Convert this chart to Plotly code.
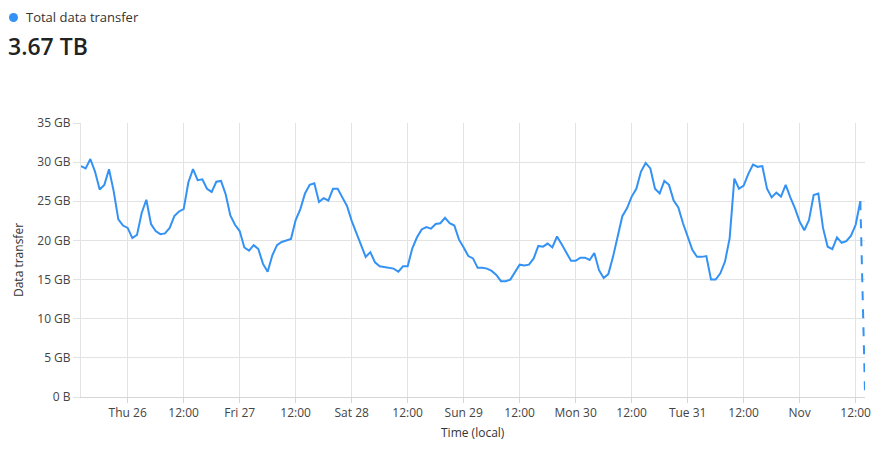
import plotly.graph_objects as go
import pandas as pd

# hourly data transfer (GB), starting Oct 25 14:00 local
start_time = "2023-10-25 14:00"
values_gb = [
    29.5, 29.2, 30.4, 28.8, 26.5, 27.1, 29.1, 26.3, 22.7, 21.9,
    21.6, 20.3, 20.7, 23.5, 25.2, 22.1, 21.2, 20.8, 20.9, 21.6,
    23.1, 23.7, 24.0, 27.4, 29.1, 27.7, 27.8, 26.6, 26.2, 27.5,
    27.6, 25.9, 23.2, 22.0, 21.2, 19.1, 18.7, 19.4, 18.9, 17.0,
    16.0, 18.1, 19.4, 19.8, 20.0, 20.2, 22.6, 24.0, 26.0, 27.1,
    27.3, 24.9, 25.4, 25.1, 26.6, 26.6, 25.5, 24.4, 22.5, 21.0,
    19.3, 17.9, 18.5, 17.2, 16.7, 16.6, 16.5, 16.4, 16.0, 16.7,
    16.7, 19.0, 20.4, 21.4, 21.7, 21.5, 22.1, 22.2, 22.9, 22.2,
    21.9, 20.1, 19.1, 18.0, 17.7, 16.5, 16.5, 16.4, 16.1, 15.6,
    14.8, 14.8, 15.0, 15.9, 16.9, 16.8, 16.9, 17.7, 19.3, 19.2,
    19.6, 19.1, 20.5, 19.5, 18.5, 17.4, 17.4, 17.8, 17.8, 17.5,
    18.4, 16.2, 15.2, 15.7, 17.9, 20.5, 23.1, 24.1, 25.6, 26.6,
    28.8, 29.9, 29.2, 26.6, 26.0, 27.6, 27.1, 25.1, 24.2, 22.2,
    20.5, 18.8, 17.9, 17.9, 18.0, 15.0, 15.0, 15.8, 17.3, 20.3,
    27.9, 26.6, 27.0, 28.5, 29.7, 29.4, 29.5, 26.6, 25.5, 26.1,
    25.6, 27.1, 25.5, 24.1, 22.4, 21.3, 22.6, 25.8, 26.0, 21.6,
    19.2, 18.9, 20.4, 19.7, 19.9, 20.6, 22.0, 25.0,
]
partial_last_gb = 0.7  # incomplete last hour (dashed)

y_tick_vals = [0, 5, 10, 15, 20, 25, 30, 35]
y_tick_text = ["0 B", "5 GB", "10 GB", "15 GB", "20 GB", "25 GB", "30 GB", "35 GB"]

x_tick_vals = pd.date_range("2023-10-26 00:00", "2023-11-01 12:00", freq="12h")
x_tick_text = ["Thu 26", "12:00", "Fri 27", "12:00", "Sat 28", "12:00", "Sun 29",
               "12:00", "Mon 30", "12:00", "Tue 31", "12:00", "Nov", "12:00"]

times = pd.date_range(start_time, periods=len(values_gb), freq="h")
last_time = times[-1] + pd.Timedelta(hours=1)

LINE = "#3392f3"
GRID = "#e3e3e3"
FONT = "Segoe UI, Open Sans, sans-serif"

fig = go.Figure()
fig.add_trace(go.Scatter(x=times, y=values_gb, mode="lines",
                         line=dict(color=LINE, width=2), hoverinfo="skip"))
fig.add_trace(go.Scatter(x=[times[-1], last_time], y=[values_gb[-1], partial_last_gb],
                         mode="lines", line=dict(color=LINE, width=2, dash="dash"),
                         hoverinfo="skip"))

fig.update_layout(
    width=892, height=457,
    margin=dict(l=73, r=35, t=115, b=68),
    paper_bgcolor="white", plot_bgcolor="white",
    showlegend=False,
    font=dict(family=FONT, size=12, color="#444"),
    xaxis=dict(
        range=[times[0], last_time],
        tickvals=x_tick_vals, ticktext=x_tick_text,
        showgrid=True, gridcolor=GRID, gridwidth=1,
        showline=True, linecolor="#d6d6d6",
        ticks="outside", ticklen=5, tickcolor="#d6d6d6",
        tickfont=dict(size=12, color="#444"),
        zeroline=False,
    ),
    yaxis=dict(
        range=[0, 35],
        tickvals=y_tick_vals, ticktext=y_tick_text,
        showgrid=True, gridcolor=GRID, gridwidth=1,
        ticks="outside", ticklen=7, tickcolor=GRID,
        tickfont=dict(size=12, color="#444"),
        zeroline=False, showline=True, linecolor=GRID,
    ),
    shapes=[
        dict(type="circle", xref="paper", yref="paper",
             xsizemode="pixel", ysizemode="pixel", xanchor=0, yanchor=1,
             x0=-72, x1=-63, y0=101, y1=110,
             fillcolor=LINE, line=dict(width=0)),
    ],
    annotations=[
        dict(text="Data transfer", textangle=-90, x=0, y=0.5, xref="paper", yref="paper",
             xanchor="center", yanchor="middle", xshift=-63, showarrow=False,
             font=dict(size=12, color="#333")),
        dict(text="Time (local)", x=0.5, y=0, xref="paper", yref="paper",
             xanchor="center", yanchor="middle", yshift=-35, showarrow=False,
             font=dict(size=12, color="#333")),
        dict(text="Total data transfer",
             x=0, y=1, xref="paper", yref="paper", xanchor="left", yanchor="middle",
             xshift=-57, yshift=106, showarrow=False,
             font=dict(size=13, color="#333")),
        dict(text="3.67 TB", x=0, y=1, xref="paper", yref="paper",
             xanchor="left", yanchor="middle", xshift=-75, yshift=123 - 46,
             showarrow=False, font=dict(size=23, color="#222", weight=600)),
    ],
)

fig.write_html("out.html")
